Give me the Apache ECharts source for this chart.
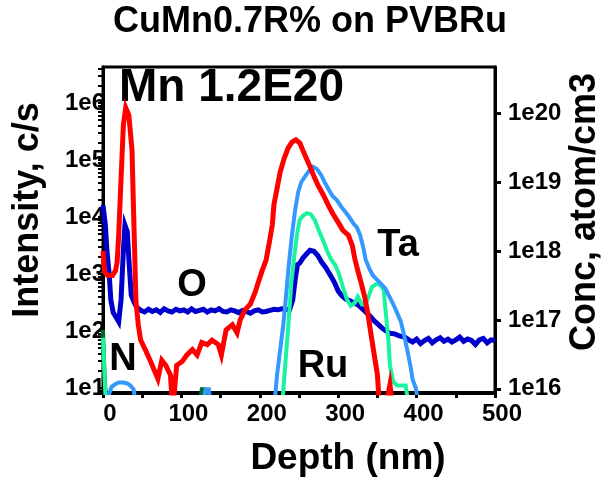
<!DOCTYPE html>
<html>
<head>
<meta charset="utf-8">
<script src="https://cdn.jsdelivr.net/npm/echarts@6/dist/echarts.min.js"></script>
<style>
  html, body { margin: 0; padding: 0; background: #ffffff; }
  #chart { width: 607px; height: 480px; }
</style>
</head>
<body>
<div id="chart"></div>
<script>
// SIMS depth profile: Mn concentration (right axis) and secondary ion intensities (left axis)
const chartTitle = 'CuMn0.7R% on PVBRu';

// Mn concentration, atom/cm3
const mnDepth = [0, 2, 6, 12, 16, 18, 20, 23, 26, 29, 33, 37, 40, 42, 45, 48, 54, 60, 66, 70,
  75, 80, 86, 89, 94, 101, 107, 114, 120, 126, 133, 139, 147, 151, 157, 165, 171, 175, 181, 188,
  194, 198, 203, 208, 212, 216, 218, 222, 226, 231, 236, 241, 246, 251, 256, 262, 268, 274, 281, 287,
  293, 300, 306, 313, 318, 321, 325, 330, 334, 338, 342, 346, 350, 353, 360, 366, 370];
const mnConc = [1.0e18, 5.0e17, 4.4e17, 4.4e17, 5.2e17, 6.9e17, 1.7e18, 1.1e19, 6.8e19, 1.2e20,
  9.3e19, 2.9e19, 1.4e18, 1.9e17, 8.5e16, 5.1e16, 3.7e16, 2.6e16, 1.8e16, 1.4e16,
  2.6e16, 2.2e16, 1.6e16, 5e15, 2.2e16, 2.5e16, 3.1e16, 3.7e16, 3.1e16, 4.7e16,
  4.4e16, 5.1e16, 4.4e16, 3.1e16, 7.2e16, 8.5e16, 6.5e16, 1.0e17, 1.4e17, 1.7e17,
  2.5e17, 3.5e17, 5.2e17, 7.4e17, 1.3e18, 2.4e18, 4.7e18, 8.1e18, 1.4e19, 2.2e19,
  3.1e19, 3.8e19, 4.1e19, 3.7e19, 2.7e19, 1.9e19, 1.3e19, 9.1e18, 6.5e18, 4.7e18,
  3.5e18, 2.6e18, 2.0e18, 1.7e18, 1.2e18, 7.9e17, 5.2e17, 3.2e17, 2.1e17, 1.2e17,
  6.0e16, 3.1e16, 1.6e16, 5e15, 5e15, 1.15e16, 5e15];

// O intensity, c/s
const oDepth = [0, 3, 5, 8, 10, 13, 17, 20, 23, 26, 28, 31, 33, 36, 40, 43,
  48, 53, 58, 63, 68, 73, 78, 83, 88, 93, 98, 103, 108, 113, 118, 123, 128, 133, 138, 143,
  148, 153, 158, 163, 168, 173, 178, 183, 188, 193, 198, 203, 208, 213, 218, 223, 228, 233, 238,
  242, 245, 248, 251, 255, 259, 264, 269, 274, 279, 284, 290, 295, 300, 305, 310, 315, 320, 325, 330,
  336, 341, 346, 351, 356, 361, 366, 372, 379,
  385, 390, 395, 400, 405, 410, 415, 420, 425, 430, 435, 440, 445, 450, 455, 460, 465, 470, 475, 480,
  485, 490, 495, 500];
const oCounts = [16000, 7200, 2600, 950, 350, 210, 170, 145, 350, 2600, 7200, 5500, 1800, 430, 310, 260,
  230, 215, 240, 220, 235, 210, 245, 225, 215, 240, 225, 235, 215, 245, 220, 230, 240, 215, 235, 225,
  245, 220, 215, 235, 225, 210, 230, 220, 205, 225, 235, 215, 220, 230, 240, 235, 245, 240, 235,
  350, 780, 1450, 1550, 1900, 2200, 2600, 2500, 2100, 1600, 1300, 950, 720, 500, 410, 360, 340, 310, 290, 250,
  210, 180, 150, 130, 112, 100, 91, 89, 81,
  78, 70, 64, 72, 60, 68, 74, 62, 70, 76, 66, 72, 64, 70, 78, 66, 72, 68, 58, 70,
  74, 62, 70, 68];

// Ta intensity, c/s
const taDepth = [0, 8, 11, 15, 20, 26, 31, 35, 39, 43, 60, 100, 126, 131, 135, 138, 180, 218, 222, 226,
  230, 233, 237, 241, 245, 249, 253, 258, 263, 268, 273, 278, 283, 288, 293, 298, 304, 309, 314, 319,
  324, 328, 332, 335, 339, 344, 350, 355, 360, 365, 370, 375, 380, 384, 388, 392, 395, 399, 403];
const taCounts = [4, 8, 10.5, 11.5, 12.5, 12.5, 12, 11, 9.5, 4, 4, 4, 4, 9.5, 9.5, 4, 4, 4, 17, 47,
  130, 350, 1450, 4800, 13000, 27500, 41000, 52000, 65000, 76000, 69000, 55000, 40000, 30000, 23000, 20000, 15000, 12300, 10000, 7800,
  6500, 4800, 2900, 1800, 1300, 950, 780, 660, 560, 410, 300, 210, 145, 85, 47, 25, 14, 10, 4];

// Ru intensity, c/s
const ruDepth = [0, 2, 4, 10, 228, 232, 236, 240, 244, 248, 251, 255, 260, 265, 270, 275, 281, 286, 291, 296,
  301, 306, 311, 316, 321, 325, 330, 335, 339, 343, 348, 353, 358, 361, 364, 366, 370, 375, 381, 386, 391];
const ruCounts = [76, 16, 4, 4, 4, 21, 105, 650, 2100, 5500, 8900, 10500, 11700, 11200, 8900, 5900, 3800, 2500, 1800, 1450,
  1000, 590, 360, 275, 310, 400, 295, 295, 410, 590, 660, 660, 525, 190, 69, 25, 13, 11, 11, 11, 4];

// N intensity, c/s
const nDepth = [0, 2, 5, 122, 126, 130, 134, 200];
const nCounts = [105, 16, 4, 4, 9.5, 9.5, 4, 4];

// Axis ticks
const depthTicks = [0, 50, 100, 150, 200, 250, 300, 350, 400, 450, 500];
const depthLabels = [0, 100, 200, 300, 400, 500];
const intensityExp = [1, 2, 3, 4, 5, 6];
const intensityLabels = ['1e1', '1e2', '1e3', '1e4', '1e5', '1e6'];
const concExp = [16, 17, 18, 19, 20];
const concLabels = ['1e16', '1e17', '1e18', '1e19', '1e20'];

// Both y axes are logarithmic: values are plotted as log10 on linear value axes
const leftRange = [0.912, 6.63];
const rightRange = [15.94, 20.67];

const toLogPairs = (xs, ys) => xs.map((d, i) => [d, Math.log10(ys[i])]);

// minor log ticks (2..9 per decade) on the intensity axis
const leftMinorTicks = [];
for (let e = 0; e <= 6; e++) {
  for (let k = 1; k <= 9; k++) {
    const v = e + Math.log10(k);
    if (v >= leftRange[0] && v <= leftRange[1]) leftMinorTicks.push(v);
  }
}

const FONT = '"Liberation Sans", Arial, Helvetica, sans-serif';
const tickLabelStyle = { fontFamily: FONT, fontWeight: 'bold', fontSize: 24, color: '#000' };

const chart = echarts.init(document.getElementById('chart'), null, { renderer: 'canvas' });

function lineSeries(name, data, color, width, yAxisIndex) {
  return {
    name, type: 'line', data, yAxisIndex,
    symbol: 'none', showSymbol: false, clip: true,
    lineStyle: { color, width, join: 'miter' },
    itemStyle: { color },
    emphasis: { disabled: true },
    animation: false
  };
}

chart.setOption({
  backgroundColor: '#ffffff',
  animation: false,
  grid: {
    left: 103, right: 112, top: 67, bottom: 87,
    show: true, borderColor: '#000', borderWidth: 3, backgroundColor: 'transparent'
  },
  xAxis: {
    type: 'value', min: 0, max: 500,
    axisLine: { show: true, onZero: false, lineStyle: { color: '#000', width: 4 } },
    axisTick: { show: true, customValues: depthTicks, length: 5, lineStyle: { color: '#000', width: 3 } },
    axisLabel: Object.assign({ customValues: depthLabels, margin: 9, padding: [0, 0, 0, 14] }, tickLabelStyle),
    splitLine: { show: false }
  },
  yAxis: [
    {
      type: 'value', position: 'left', min: leftRange[0], max: leftRange[1],
      axisLine: { show: true, onZero: false, lineStyle: { color: '#000', width: 3 } },
      axisTick: { show: true, customValues: leftMinorTicks, length: 5, lineStyle: { color: '#000', width: 2 } },
      axisLabel: Object.assign({
        customValues: intensityExp, margin: -2,
        formatter: v => intensityLabels[intensityExp.indexOf(Math.round(v))]
      }, tickLabelStyle),
      splitLine: { show: false }
    },
    {
      type: 'value', position: 'right', min: rightRange[0], max: rightRange[1],
      axisLine: { show: true, onZero: false, lineStyle: { color: '#000', width: 3 } },
      axisTick: { show: true, customValues: concExp, length: 6, lineStyle: { color: '#000', width: 3 } },
      axisLabel: Object.assign({
        customValues: concExp, margin: 13,
        formatter: v => concLabels[concExp.indexOf(Math.round(v))]
      }, tickLabelStyle),
      splitLine: { show: false }
    }
  ],
  series: [
    lineSeries('N', toLogPairs(nDepth, nCounts), '#006633', 4, 0),
    lineSeries('O', toLogPairs(oDepth, oCounts), '#0000CC', 5, 0),
    lineSeries('Ru', toLogPairs(ruDepth, ruCounts), '#19F59E', 4, 0),
    lineSeries('Ta', toLogPairs(taDepth, taCounts), '#3399FF', 4, 0),
    lineSeries('Mn', toLogPairs(mnDepth, mnConc), '#FF0000', 5, 1)
  ],
  graphic: [
    { type: 'text', x: 310, y: 22, silent: true,
      style: { text: chartTitle, font: 'bold 36px ' + FONT, fill: '#000', align: 'center', verticalAlign: 'middle' } },
    { type: 'text', x: 28, y: 210, rotation: Math.PI / 2, silent: true,
      style: { text: 'Intensity, c/s', font: 'bold 36px ' + FONT, fill: '#000', align: 'center', verticalAlign: 'middle' } },
    { type: 'text', x: 585, y: 212, rotation: Math.PI / 2, silent: true,
      style: { text: 'Conc, atom/cm3', font: 'bold 36px ' + FONT, fill: '#000', align: 'center', verticalAlign: 'middle' } },
    { type: 'text', x: 348, y: 459, silent: true,
      style: { text: 'Depth (nm)', font: 'bold 37px ' + FONT, fill: '#000', align: 'center', verticalAlign: 'middle' } },
    { type: 'text', x: 119, y: 88, silent: true,
      style: { text: 'Mn 1.2E20', font: 'bold 46px ' + FONT, fill: '#000', align: 'left', verticalAlign: 'middle' } },
    { type: 'text', x: 192, y: 286, silent: true,
      style: { text: 'O', font: 'bold 38px ' + FONT, fill: '#000', align: 'center', verticalAlign: 'middle' } },
    { type: 'text', x: 123, y: 360, silent: true,
      style: { text: 'N', font: 'bold 38px ' + FONT, fill: '#000', align: 'center', verticalAlign: 'middle' } },
    { type: 'text', x: 323, y: 367, silent: true,
      style: { text: 'Ru', font: 'bold 38px ' + FONT, fill: '#000', align: 'center', verticalAlign: 'middle' } },
    { type: 'text', x: 398, y: 246, silent: true,
      style: { text: 'Ta', font: 'bold 38px ' + FONT, fill: '#000', align: 'center', verticalAlign: 'middle' } }
  ]
});
</script>
</body>
</html>
